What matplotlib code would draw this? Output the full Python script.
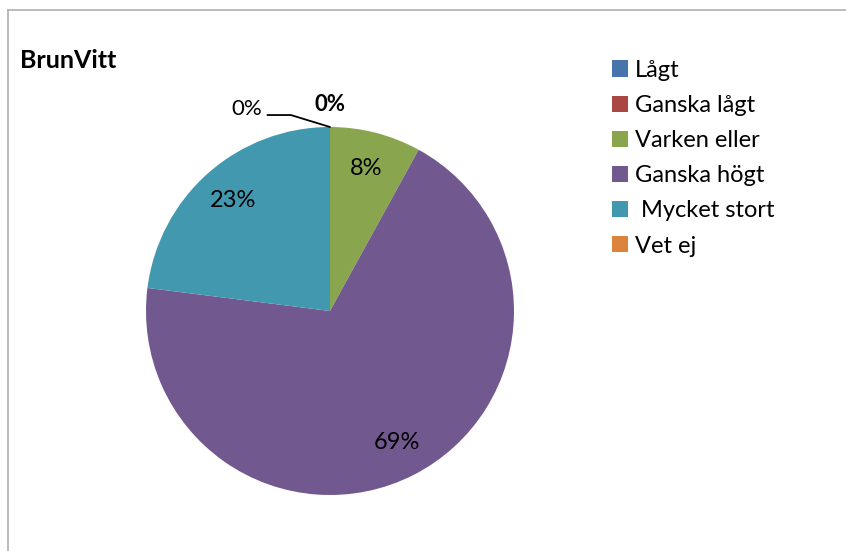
import matplotlib.pyplot as plt
from matplotlib.lines import Line2D

categories = ["Lågt", "Ganska lågt", "Varken eller", "Ganska högt", " Mycket stort", "Vet ej"]
values = [0, 0, 8, 69, 23, 0]
colors = ["#4674AB", "#AA4644", "#89A54E", "#71588F", "#4198AF", "#DB843D"]

plt.rcParams['font.family'] = ['Lato', 'DejaVu Sans']

W, H = 846, 551
fig = plt.figure(figsize=(W / 100, H / 100), dpi=100)

# grey chart border (top and left visible)
fig.add_artist(Line2D([8 / W, 8 / W], [0, 1 - 10 / H], color="#B0B0B0", lw=1.2, transform=fig.transFigure))
fig.add_artist(Line2D([8 / W, 1], [1 - 10 / H, 1 - 10 / H], color="#B0B0B0", lw=1.2, transform=fig.transFigure))

cx, cy, r = 330, 311, 184
ax = fig.add_axes([(cx - r) / W, (H - cy - r) / H, 2 * r / W, 2 * r / H])


def fmt(p):
    return "%d%%" % round(p) if p >= 0.5 else ""


wedges, texts, autotexts = ax.pie(values, colors=colors, startangle=90, counterclock=False,
                                  autopct=fmt, pctdistance=0.8, radius=1,
                                  textprops=dict(fontsize=17, color="black"))
ax.set_xlim(-1, 1)
ax.set_ylim(-1, 1)
ax.set_aspect("equal")
ax.axis("off")

# zero-valued slices: labels sit at the top of the pie
ax.text(0, 1.12, "0%", ha="center", va="center", fontsize=16, fontweight="bold")
ax.text(-0.45, 1.10, "0%", ha="center", va="center", fontsize=16)
ax.annotate("", xy=(0, 1.0), xytext=(-0.34, 1.065),
            arrowprops=dict(arrowstyle="-", color="black", lw=1.3,
                            connectionstyle="angle,angleA=0,angleB=163,rad=0",
                            shrinkA=0, shrinkB=0))

fig.text(20 / W, 1 - 60 / H, "BrunVitt", fontsize=18, fontweight="bold", va="center", ha="left")

fig.legend(wedges, categories, loc="upper left", bbox_to_anchor=(600 / W, 1 - 48 / H),
           frameon=False, fontsize=17, handlelength=0.68, handleheight=0.68,
           handletextpad=0.3, labelspacing=0.6, borderpad=0)

fig.savefig("out.png", dpi=100)
